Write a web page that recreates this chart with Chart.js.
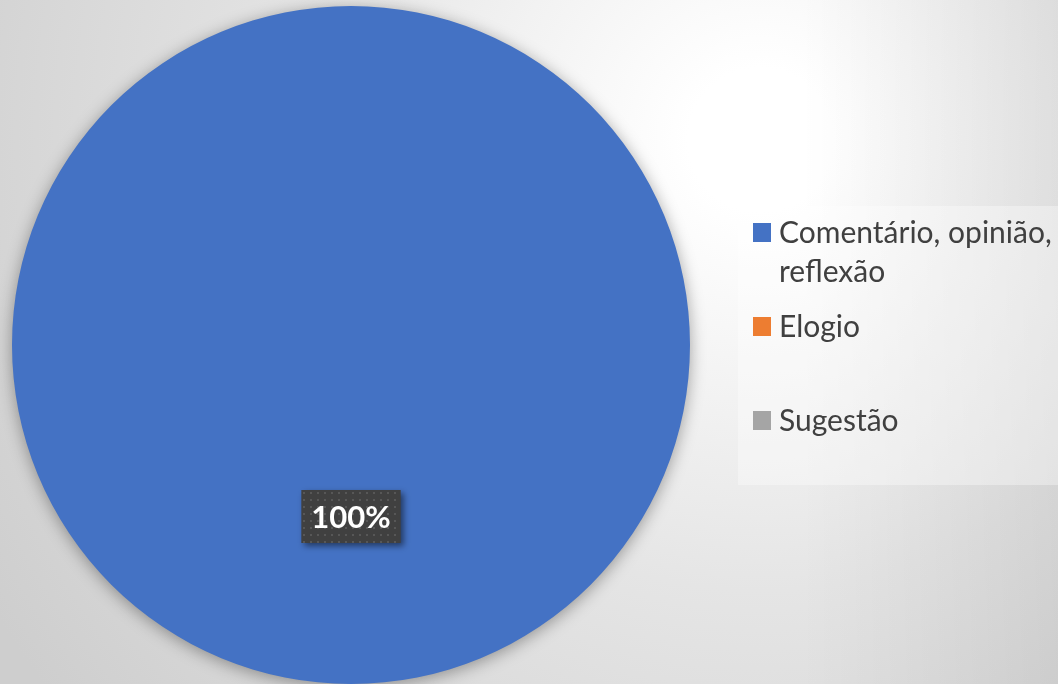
<!DOCTYPE html>
<html>
<head>
<meta charset="utf-8">
<script src="https://cdn.jsdelivr.net/npm/chart.js@4.4.1/dist/chart.umd.min.js"></script>
<style>
    html, body { margin: 0; padding: 0; background: #e0e0e0; }
    #wrap { width: 1058px; height: 684px; position: relative; }
</style>
</head>
<body>
<div id="wrap"><canvas id="pieChart"></canvas></div>
<script>
// donnees du graphe
const categories = ['Comentário, opinião, reflexão', 'Elogio', 'Sugestão'];
const valeurs = [100, 0, 0];
const couleurs = ['#4472C4', '#ED7D31', '#A5A5A5'];

const fontFamily = 'Lato, "Open Sans", sans-serif';

// fond degrade gris/blanc
const fondPlugin = {
    id: 'fond',
    beforeDraw(chart) {
        let ctx = chart.ctx;
        let w = chart.width, h = chart.height;
        ctx.save();
        let g = ctx.createRadialGradient(760, 140, 0, 760, 140, 900);
        g.addColorStop(0, '#ffffff');
        g.addColorStop(0.08, '#ffffff');
        g.addColorStop(0.5, '#e5e5e5');
        g.addColorStop(1, '#cecece');
        ctx.fillStyle = g;
        ctx.fillRect(0, 0, w, h);
        let g2 = ctx.createLinearGradient(800, 0, w, 0);
        g2.addColorStop(0, 'rgba(0,0,0,0)');
        g2.addColorStop(1, 'rgba(0,0,0,0.07)');
        ctx.fillStyle = g2;
        ctx.fillRect(800, 0, w - 800, h);
        ctx.restore();
    }
};

// ombre sous le camembert
const ombrePlugin = {
    id: 'ombre',
    beforeDatasetsDraw(chart) {
        let ctx = chart.ctx;
        ctx.save();
        ctx.shadowColor = 'rgba(0,0,0,0.35)';
        ctx.shadowBlur = 16;
        ctx.shadowOffsetX = 0;
        ctx.shadowOffsetY = 3;
    },
    afterDatasetsDraw(chart) {
        chart.ctx.restore();
    }
};

// etiquette de pourcentage
function motifPoints(ctx) {
    let c = document.createElement('canvas');
    c.width = 7; c.height = 7;
    let p = c.getContext('2d');
    p.fillStyle = '#404040';
    p.fillRect(0, 0, 7, 7);
    p.fillStyle = '#575757';
    p.fillRect(2, 2, 2, 2);
    return ctx.createPattern(c, 'repeat');
}

const etiquettePlugin = {
    id: 'etiquette',
    afterDatasetsDraw(chart) {
        let ctx = chart.ctx;
        let meta = chart.getDatasetMeta(0);
        let data = chart.data.datasets[0].data;
        let total = data.reduce((a, b) => a + b, 0);
        meta.data.forEach((arc, i) => {
            if (!data[i]) return;
            let pos = arc.tooltipPosition();
            let txt = Math.round(data[i] / total * 100) + '%';
            ctx.save();
            ctx.font = 'bold 31px ' + fontFamily;
            let tw = ctx.measureText(txt).width;
            let bw = tw + 20, bh = 53;
            let bx = pos.x - bw / 2, by = pos.y + 2 - bh / 2;
            ctx.shadowColor = 'rgba(0,0,0,0.5)';
            ctx.shadowBlur = 6;
            ctx.shadowOffsetX = 3;
            ctx.shadowOffsetY = 3;
            ctx.fillStyle = motifPoints(ctx);
            ctx.fillRect(bx, by, bw, bh);
            ctx.shadowColor = 'transparent';
            ctx.fillStyle = '#ffffff';
            ctx.textAlign = 'center';
            ctx.textBaseline = 'middle';
            ctx.fillText(txt, pos.x, by + bh / 2 + 1);
            ctx.restore();
        });
    }
};

// legende a droite
const legendePlugin = {
    id: 'legende',
    afterDraw(chart) {
        let ctx = chart.ctx;
        let ds = chart.data.datasets[0];
        ctx.save();
        ctx.fillStyle = 'rgba(255,255,255,0.35)';
        ctx.fillRect(738, 206, 320, 279);
        ctx.font = '30px ' + fontFamily;
        ctx.textBaseline = 'alphabetic';
        let top = 223;
        chart.data.labels.forEach((lab, i) => {
            // decoupage du texte sur la largeur dispo
            let mots = lab.split(' ');
            let lignes = [];
            let cur = '';
            mots.forEach(m => {
                let essai = cur ? cur + ' ' + m : m;
                if (ctx.measureText(essai).width > 279 && cur) {
                    lignes.push(cur);
                    cur = m;
                } else {
                    cur = essai;
                }
            });
            lignes.push(cur);
            ctx.fillStyle = ds.backgroundColor[i];
            ctx.fillRect(753, top, 18, 19);
            ctx.fillStyle = '#404040';
            lignes.forEach((l, k) => {
                ctx.fillText(l, 779, top + 20 + k * 39);
            });
            top += 94;
        });
        ctx.restore();
    }
};

let config = {
    type: 'pie',
    data: {
        labels: categories,
        datasets: [{
            data: valeurs,
            backgroundColor: couleurs,
            borderWidth: 0
        }]
    },
    options: {
        responsive: true,
        maintainAspectRatio: false,
        animation: false,
        layout: {
            padding: { left: 12, top: 6, right: 368, bottom: 0 }
        },
        plugins: {
            legend: { display: false },
            tooltip: { enabled: false }
        }
    },
    plugins: [fondPlugin, ombrePlugin, etiquettePlugin, legendePlugin]
};

let pieChart = new Chart(document.getElementById('pieChart'), config);
</script>
</body>
</html>
